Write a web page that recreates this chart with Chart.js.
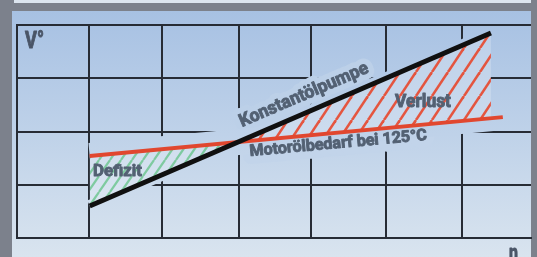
<!DOCTYPE html>
<html><head><meta charset="utf-8">
<script src="https://cdn.jsdelivr.net/npm/chart.js@4/dist/chart.umd.min.js"></script>
<style>html,body{margin:0;padding:0;background:#7c818c;overflow:hidden}canvas{display:block}</style>
</head><body>
<canvas id="c" width="537" height="257"></canvas>
<script>
// ---- data ----
const pumpX = [0.98, 6.39];          // Konstantölpumpe (n)
const pumpY = [0.60, 3.85];          // Konstantölpumpe (V°)
const demandX = [0.98, 6.55];        // Motorölbedarf bei 125°C (n)
const demandY = [1.54, 2.27];        // Motorölbedarf bei 125°C (V°)
const xGrid = [0, 0.97, 1.95, 2.99, 3.96, 4.97, 6.0];
const yGrid = [0, 1, 2, 3, 4];
const axisTitles = ['V°', 'n'];
const seriesNames = ['Konstantölpumpe', 'Motorölbedarf bei 125°C'];
const areaNames = ['Verlust', 'Defizit'];

const pumpPts = pumpX.map((x, i) => ({x, y: pumpY[i]}));
const demandPts = demandX.map((x, i) => ({x, y: demandY[i]}));

const canvas = document.getElementById('c');
const ctx0 = canvas.getContext('2d');
const stops = [[0, [167, 193, 227]], [0.5, [191, 210, 233]], [1, [217, 228, 239]]];
function panelGrad(ctx) {
  const g = ctx.createLinearGradient(0, 11, 0, 257);
  stops.forEach(s => g.addColorStop(s[0], 'rgb(' + s[1].join(',') + ')'));
  return g;
}
function panelAt(y) {
  const t = Math.max(0, Math.min(1, (y - 11) / 246));
  let a = stops[0], b = stops[1];
  if (t > 0.5) { a = stops[1]; b = stops[2]; }
  const f = (t - a[0]) / (b[0] - a[0]);
  return 'rgb(' + a[1].map((v, i) => Math.round(v + (b[1][i] - v) * f)).join(',') + ')';
}
const PG = panelGrad(ctx0);
function hatch(color, w, h, lw, bg) {
  const c = document.createElement('canvas'); c.width = w; c.height = h;
  const x = c.getContext('2d');
  if (bg) { x.fillStyle = bg; x.fillRect(0, 0, w, h); }
  x.strokeStyle = color; x.lineWidth = lw;
  for (const o of [-w, 0, w]) { x.beginPath(); x.moveTo(o, h); x.lineTo(o + w, 0); x.stroke(); }
  return ctx0.createPattern(c, 'repeat');
}
const redHatch = hatch('rgba(230,78,54,0.95)', 16, 24, 2.6, 'rgba(255,255,255,0.22)');
const greenHatch = hatch('rgba(105,196,140,0.8)', 11, 16, 2.2, 'rgba(255,255,255,0.25)');

const INK = '#536173';
const labels = [
  {text: axisTitles[0], x: 25, y: 48, size: 23, w: 19, a: 0, color: '#4a5567'},
  {text: axisTitles[1], x: 509, y: 261, size: 23, w: 9, a: 0, color: '#4a5567'},
  {text: seriesNames[0], x: 242, y: 127, size: 18, w: 139, a: -23.3, color: INK, halo: 12},
  {text: seriesNames[1], x: 250, y: 156, size: 16, w: 178, a: -5.2, color: INK, halo: 16},
  {text: areaNames[0], x: 395, y: 107, size: 18, w: 56, a: 0, color: INK},
  {text: areaNames[1], x: 93, y: 176, size: 17, w: 49, a: 0, color: INK}
];
function drawLabel(ctx, L, halo) {
  ctx.save();
  ctx.translate(L.x, L.y);
  ctx.rotate(L.a * Math.PI / 180);
  ctx.font = 'bold ' + L.size + 'px Roboto, "DejaVu Sans", sans-serif';
  ctx.textBaseline = 'alphabetic'; ctx.textAlign = 'left';
  const m = ctx.measureText(L.text).width;
  ctx.scale(L.w / m, 1);
  ctx.lineJoin = 'round';
  if (halo) {
    ctx.strokeStyle = panelAt(L.y - 6); ctx.lineWidth = L.halo;
    ctx.strokeText(L.text, 0, 0);
  } else {
    ctx.fillStyle = L.color;
    ctx.strokeStyle = L.color; ctx.lineWidth = 0.9;
    ctx.fillText(L.text, 0, 0);
    ctx.strokeText(L.text, 0, 0);
  }
  ctx.restore();
}

const framePlugin = {
  id: 'frame',
  beforeDraw(chart) {
    const ctx = chart.ctx;
    ctx.save();
    ctx.fillStyle = '#7c818c'; ctx.fillRect(0, 0, 537, 257);
    ctx.fillStyle = '#dce5ef'; ctx.fillRect(14, 0, 517, 3);
    ctx.fillStyle = PG; ctx.fillRect(12, 11, 519, 246);
    ctx.restore();
  },
  beforeDatasetsDraw(chart) {
    labels.filter(l => l.halo).forEach(l => drawLabel(chart.ctx, l, true));
  },
  afterDatasetsDraw(chart) {
    labels.forEach(l => drawLabel(chart.ctx, l, false));
  }
};

const GRID = '#272c35';
new Chart(canvas, {
  type: 'line',
  data: {
    datasets: [
      {data: pumpPts, borderColor: PG, borderWidth: 12, backgroundColor: PG, fill: '+1', order: 11, pointRadius: 0},
      {data: demandPts, borderColor: PG, borderWidth: 26, fill: false, order: 10, pointRadius: 0},
      {label: seriesNames[1], data: demandPts, borderColor: '#e1472f', borderWidth: 4, pointRadius: 0,
       fill: {target: 3, above: greenHatch, below: redHatch}, order: 2},
      {label: seriesNames[0], data: pumpPts, borderColor: '#101010', borderWidth: 5, pointRadius: 0, fill: false, order: 0}
    ]
  },
  options: {
    responsive: false, devicePixelRatio: 1, animation: false, events: [],
    layout: {padding: {left: 17, top: 25, right: 6, bottom: 19}},
    plugins: {legend: {display: false}, tooltip: {enabled: false}},
    scales: {
      x: {type: 'linear', min: 0, max: 6.93,
          ticks: {display: false, includeBounds: false},
          afterBuildTicks: s => { s.ticks = xGrid.map(v => ({value: v})); },
          afterFit: s => { s.height = 0; },
          grid: {color: GRID, lineWidth: 2, drawTicks: false},
          border: {display: true, color: GRID, width: 2}},
      y: {type: 'linear', min: 0, max: 4,
          ticks: {display: false, includeBounds: false},
          afterBuildTicks: s => { s.ticks = yGrid.map(v => ({value: v})); },
          afterFit: s => { s.width = 0; },
          grid: {color: GRID, lineWidth: 2, drawTicks: false},
          border: {display: true, color: GRID, width: 2}}
    }
  },
  plugins: [framePlugin]
});
</script>
</body></html>
